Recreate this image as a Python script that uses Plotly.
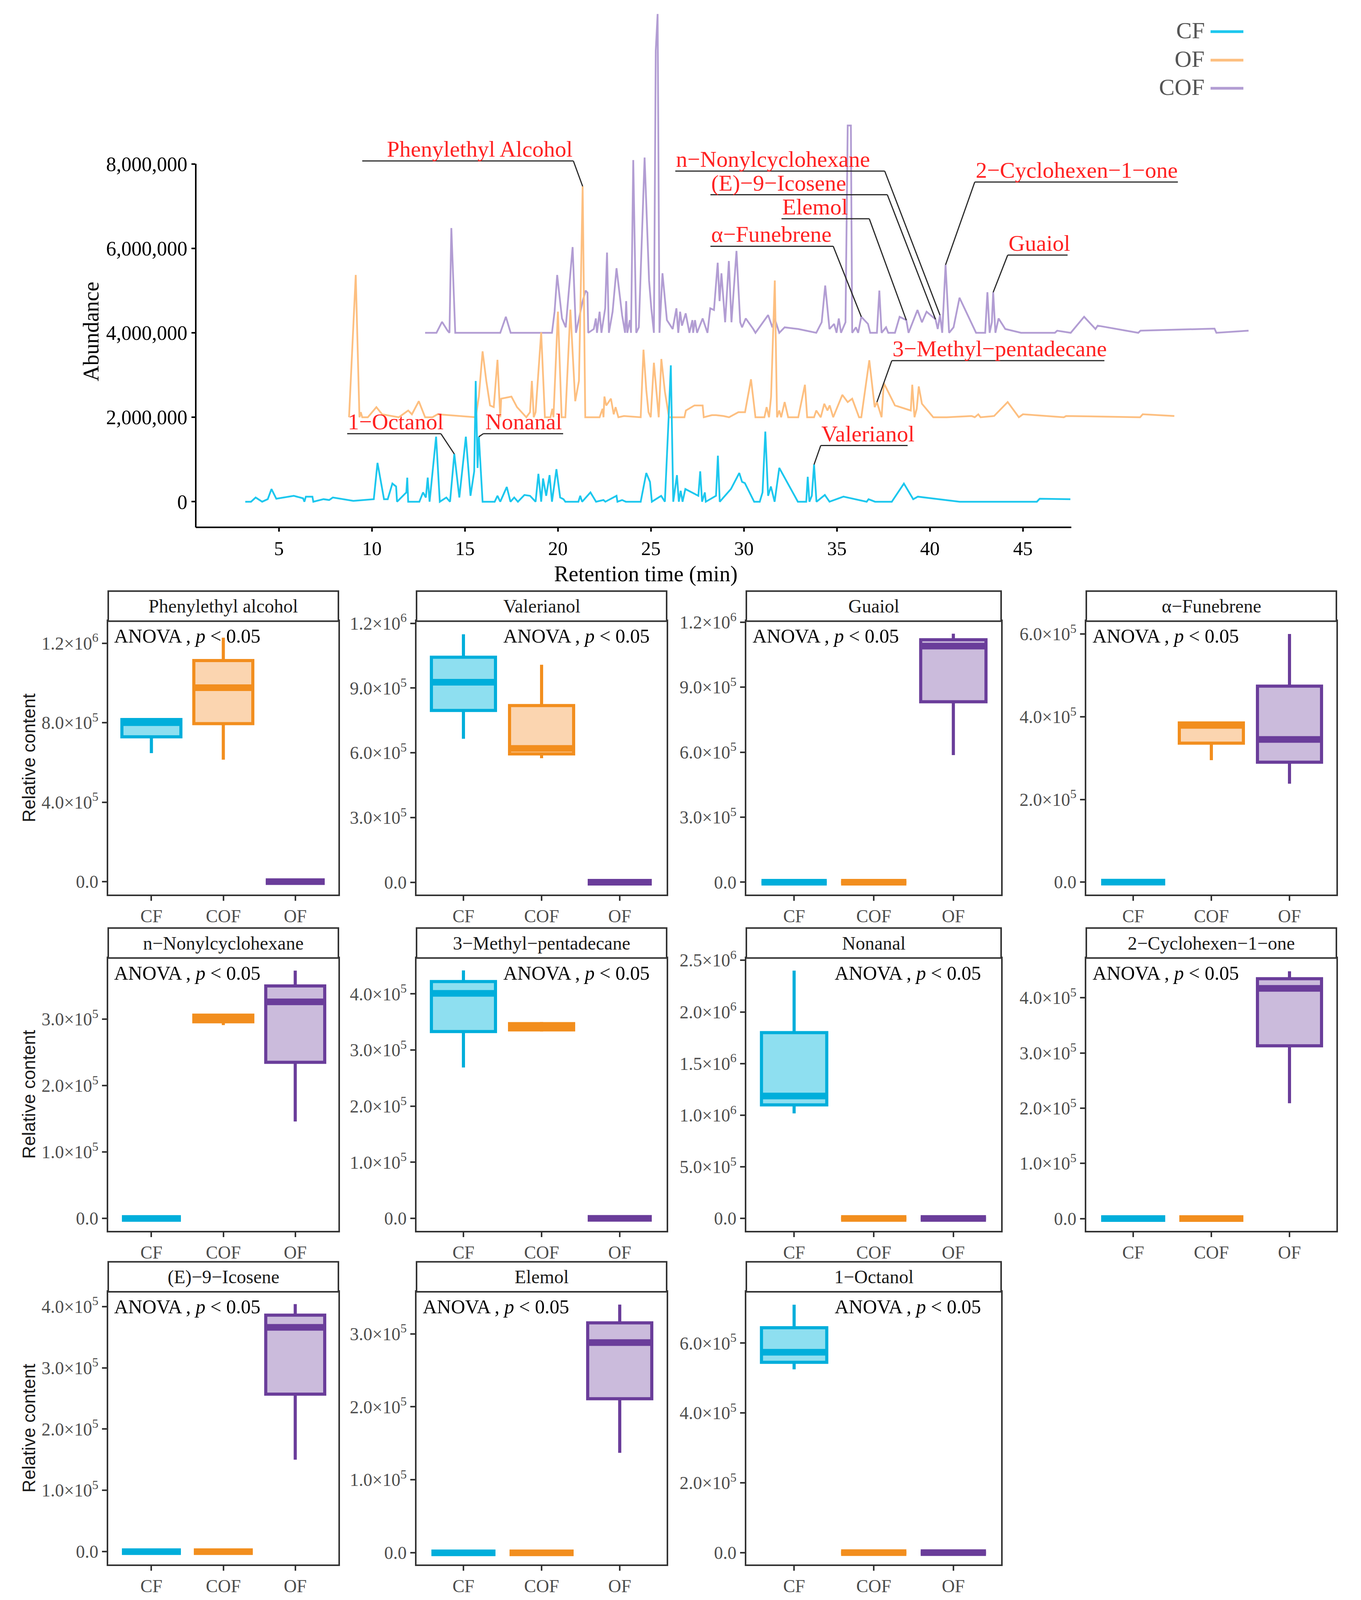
import numpy as np
import plotly.graph_objects as go

# design canvas (the page fills the browser window; positions are given as fractions of this)
W, H = 3483, 4688

# ---- chromatogram data (abundance in millions, above each trace's own baseline) ----
cf_time = [3.19, 3.5, 3.75, 4.1, 4.4, 4.6, 4.86, 5.8, 6.3, 6.37, 6.45, 6.8, 6.85, 7.4, 7.7, 7.9, 9.0, 10.1,
           10.3, 10.65, 10.85, 11.1, 11.3, 11.35, 11.85, 11.9, 11.95, 12.55, 12.75, 12.9, 13.0, 13.1, 13.45,
           13.65, 14.0, 14.2, 14.43, 14.7, 15.05, 15.3, 15.5, 15.58, 15.68, 15.75, 15.95, 16.6, 16.75, 16.9,
           17.25, 17.45, 17.65, 17.85, 18.2, 18.5, 18.8, 18.95, 19.1, 19.2, 19.37, 19.55, 19.68, 19.92, 20.12,
           20.3, 20.4, 21.1, 21.2, 21.3, 21.75, 22.05, 22.45, 22.55, 23.15, 23.2, 23.45, 23.65, 24.45, 24.75,
           24.95, 25.05, 25.55, 25.75, 25.97, 26.07, 26.2, 26.4, 26.5, 26.6, 26.7, 26.85, 27.55, 27.65, 27.75,
           27.9, 27.95, 28.5, 28.6, 28.7, 29.3, 29.75, 29.9, 30.05, 30.55, 30.85, 31.0, 31.15, 31.3, 31.45,
           31.65, 31.9, 32.9, 33.35, 33.43, 33.52, 33.65, 33.77, 33.9, 34.35, 34.6, 35.35, 36.6, 36.7, 37.05,
           37.95, 38.6, 39.1, 39.35, 41.6, 45.75, 45.9, 47.55]
cf_abund = [0, 0, 0.1, 0, 0.06, 0.3, 0.07, 0.14, 0.08, 0, 0.12, 0.12, 0, 0.06, 0.04, 0.1, 0.02, 0.06,
            0.92, 0.06, 0.06, 0.43, 0.36, 0, 0.22, 0.57, 0, 0, 0.22, 0.1, 0.57, 0, 1.54,
            0, 0.1, 0, 1.13, 0.1, 1.54, 0.14, 0.72, 2.86, 0.8, 1.54, 0, 0, 0.14, 0,
            0.35, 0, 0.1, 0, 0.16, 0.14, 0, 0.66, 0, 0.55, 0.14, 0.63, 0, 0.77, 0.1,
            0.06, 0, 0, 0.14, 0, 0.22, 0, 0.04, 0, 0.14, 0, 0.04, 0, 0, 0.68,
            0.47, 0, 0.14, 0, 2.16, 3.23, 0, 0.63, 0, 0.26, 0, 0.3, 0.14, 0.72, 0,
            0.22, 0, 0.14, 1.09, 0, 0.3, 0.68, 0.47, 0.44, 0, 0, 0.22, 1.66, 0.14, 0.36,
            0, 0.8, 0, 0, 0.59, 0, 0.14, 0.88, 0, 0.16, 0, 0.12, 0, 0.06, 0,
            0, 0.43, 0.06, 0.12, 0, 0, 0.07, 0.06]

of_time = [8.77, 9.13, 9.33, 9.4, 9.48, 9.78, 10.24, 10.55, 11.45, 11.95, 12.15, 12.52, 12.86, 13.25, 13.53,
           15.38, 15.58, 15.75, 15.95, 16.15, 16.35, 16.55, 16.75, 16.9, 16.95, 17.5, 17.8, 18.3, 18.5, 18.6,
           18.7, 18.8, 19.1, 19.3, 19.6, 19.7, 19.76, 20.0, 20.2, 20.4, 20.67, 20.93, 21.13, 21.23, 21.33,
           21.47, 22.24, 22.4, 22.45, 22.5, 22.6, 22.85, 23.0, 23.1, 23.25, 23.55, 24.45, 24.6, 24.75, 24.87,
           24.99, 25.16, 25.3, 25.42, 25.56, 25.75, 25.97, 26.27, 26.8, 26.88, 27.34, 27.78, 27.84, 28.28,
           28.5, 28.9, 29.2, 29.7, 30.06, 30.38, 30.62, 31.1, 31.22, 31.35, 31.46, 31.66, 31.78, 31.9, 32.0,
           32.19, 32.38, 32.92, 33.28, 33.4, 33.77, 33.89, 34.13, 34.32, 34.49, 34.61, 34.8, 35.29, 35.58,
           35.82, 36.19, 36.31, 36.74, 37.03, 37.15, 37.4, 37.52, 38.12, 38.97, 39.05, 39.17, 39.29, 39.4,
           39.57, 40.18, 40.9, 42.24, 42.41, 42.6, 42.72, 43.45, 44.18, 44.78, 45.0, 47.2, 47.32, 51.3, 51.44,
           53.14]
of_abund = [0, 3.37, 0, 0.12, 0, 0, 0.24, 0.07, 0, 0.16, 0.07, 0.38, 0, 0, 0.07,
            0, 0, 0.49, 1.56, 0.86, 0.28, 0.24, 1.36, 0, 0.44, 0.49, 0.24, 0, 0.12, 0.86,
            0, 0.12, 2.01, 0, 0, 0.2, 0, 2.5, 0, 0, 2.55, 0.38, 0.86, 3.08, 5.47,
            0, 0, 0.2, 0, 0.49, 0.28, 0.44, 0.07, 0.24, 0, 0.03, 0, 1.6, 0.65, 0.12,
            0, 1.29, 0.65, 0, 1.38, 0.61, 0, 0, 0, 0.16, 0.28, 0.28, 0, 0.05,
            0.05, 0.03, 0, 0.12, 0.12, 0.9, 0, 0, 0.24, 0, 0.49, 3.24, 0, 0.16, 0,
            0.36, 0, 0, 0.77, 0, 0, 0.16, 0, 0.32, 0.16, 0.28, 0, 0.53, 0.36,
            0.44, 0, 0, 1.35, 0.24, 0.36, 0, 0.81, 0.28, 0.16, 0.77, 0, 0.2, 0.73,
            0.32, 0, 0, 0.03, 0, 0.07, 0, 0.03, 0.36, 0, 0.07, 0, 0.03, 0, 0.07,
            0.03]

cof_time = [12.86, 13.47, 13.77, 14.07, 14.17, 14.27, 14.48, 16.9, 17.2, 17.46, 19.68, 19.82, 19.96, 20.22,
            20.42, 20.79, 20.97, 21.33, 21.49, 21.59, 21.63, 21.93, 22.04, 22.1, 22.24, 22.34, 22.54, 22.64,
            22.74, 22.94, 23.15, 23.45, 23.61, 23.67, 23.73, 23.87, 23.93, 24.05, 24.21, 24.35, 24.66, 24.9,
            25.02, 25.16, 25.26, 25.36, 25.46, 25.62, 25.86, 26.17, 26.37, 26.47, 26.57, 26.67, 26.87, 27.07,
            27.23, 27.27, 27.37, 27.48, 27.78, 28.04, 28.19, 28.39, 28.59, 28.69, 28.79, 28.99, 29.19, 29.33,
            29.6, 29.8, 29.9, 30.1, 30.5, 30.62, 31.3, 31.53, 31.65, 31.9, 32.19, 32.92, 33.89, 34.18, 34.37,
            34.6, 34.85, 34.98, 35.1, 35.22, 35.46, 35.58, 35.75, 35.82, 36.02, 36.14, 36.31, 36.67, 36.79,
            37.15, 37.28, 37.4, 37.64, 37.76, 38.12, 38.37, 38.73, 38.85, 39.33, 39.57, 39.82, 40.3, 40.42,
            40.54, 40.66, 40.84, 41.03, 41.27, 41.59, 42.48, 42.97, 43.09, 43.21, 43.33, 43.4, 43.52, 43.69,
            44.05, 44.9, 46.72, 46.84, 47.57, 48.29, 48.9, 49.02, 51.2, 51.32, 55.3, 55.4, 57.13]
cof_abund = [0, 0, 0.26, 0.05, 0, 2.48, 0, 0, 0.38, 0, 0, 0.5, 1.37, 0.34,
             0.13, 2.03, 0, 0.75, 1.0, 0.95, 0, 0.09, 0.34, 0, 0.5, 0, 0.58, 1.9,
             0, 0.5, 1.53, 0.42, 0, 0.75, 0, 0.3, 0, 4.09, 0, 0.13, 4.15, 1.24,
             0.58, 0, 6.68, 7.55, 0, 1.41, 0.3, 0.09, 0.58, 0, 0.5, 0.17, 0.46, 0,
             0.3, 0, 0.3, 0, 0.34, 0, 0.58, 0.54, 1.66, 0.75, 1.41, 0.25, 1.7, 0.25,
             1.94, 0.25, 0.13, 0.34, 0.09, 0, 0.42, 0.13, 0.34, 0, 0.13, 0.09, 0, 0.25, 1.12,
             0.09, 0.21, 0, 0.34, 0, 0.25, 4.91, 4.91, 0, 0.13, 0, 0.38, 0.21, 0,
             0, 1.0, 0, 0.13, 0, 0, 0.38, 0.3, 0, 0.54, 0.25, 0.5, 0.32, 0.09,
             0.42, 0, 1.61, 0, 0.13, 0.83, 0, 0, 0.96, 0, 0.25, 0.96, 0, 0.34,
             0.09, 0, 0, 0.05, 0, 0.38, 0.09, 0.17, 0, 0.05, 0.1, 0, 0.05]

trace_offset = {"CF": 0, "OF": 2e6, "COF": 4e6}
trace_color = {"CF": "#1CC7EE", "OF": "#FDBF80", "COF": "#B29DD3"}

# peak labels: text, trace, peak time, underline start/end (min), underline height, text alignment
label_text = ["Phenylethyl Alcohol", "n−Nonylcyclohexane", "(E)−9−Icosene", "Elemol", "α−Funebrene",
              "2−Cyclohexen−1−one", "Guaiol", "3−Methyl−pentadecane", "Valerianol", "1−Octanol", "Nonanal"]
label_trace = ["OF", "COF", "COF", "COF", "COF", "COF", "COF", "OF", "CF", "CF", "CF"]
label_peak = [21.33, 40.54, 40.3, 38.73, 36.31, 40.84, 43.4, 37.15, 33.77, 14.43, 15.75]
label_x0 = [9.48, 26.31, 28.2, 32.02, 28.2, 42.41, 44.18, 37.95, 34.13, 8.67, 15.99]
label_x1 = [20.83, 37.57, 37.71, 36.74, 34.8, 53.33, 47.4, 49.38, 38.8, 13.71, 20.28]
label_y = [8.07e6, 7.83e6, 7.27e6, 6.7e6, 6.05e6, 7.57e6, 5.84e6, 3.34e6, 1.33e6, 1.61e6, 1.61e6]
label_align = ["right", "left", "left", "left", "left", "left", "left", "left", "left", "left", "right"]

# ---- box plot data: per group [lower whisker, Q1, median, Q3, upper whisker] ----
groups = ["CF", "COF", "OF"]
group_line = ["#00AEDB", "#F28E1E", "#6A3D9A"]
group_fill = ["#8EDFF0", "#FBD5B0", "#CBBBDC"]

compounds = ["Phenylethyl alcohol", "Valerianol", "Guaiol", "α−Funebrene", "n−Nonylcyclohexane",
             "3−Methyl−pentadecane", "Nonanal", "2−Cyclohexen−1−one", "(E)−9−Icosene", "Elemol", "1−Octanol"]
phenylethyl_alcohol = [[6.47e5, 7.29e5, 8.0e5, 8.16e5, 8.16e5],
                       [6.14e5, 7.95e5, 9.76e5, 1.113e6, 1.228e6],
                       [0, 0, 0, 0, 0]]
valerianol = [[6.65e5, 7.96e5, 9.27e5, 1.043e6, 1.149e6],
              [5.75e5, 5.95e5, 6.2e5, 8.19e5, 1.008e6],
              [0, 0, 0, 0, 0]]
guaiol = [[0, 0, 0, 0, 0],
          [0, 0, 0, 0, 0],
          [5.87e5, 8.33e5, 1.09e6, 1.119e6, 1.147e6]]
funebrene = [[0, 0, 0, 0, 0],
             [2.95e5, 3.36e5, 3.79e5, 3.85e5, 3.87e5],
             [2.38e5, 2.9e5, 3.45e5, 4.74e5, 6.0e5]]
nonylcyclohexane = [[0, 0, 0, 0, 0],
                    [2.91e5, 2.96e5, 3.01e5, 3.06e5, 3.06e5],
                    [1.46e5, 2.35e5, 3.26e5, 3.5e5, 3.73e5]]
methyl_pentadecane = [[2.69e5, 3.33e5, 4.01e5, 4.22e5, 4.42e5],
                      [3.33e5, 3.36e5, 3.42e5, 3.47e5, 3.5e5],
                      [0, 0, 0, 0, 0]]
nonanal = [[1.017e6, 1.10e6, 1.186e6, 1.80e6, 2.40e6],
           [0, 0, 0, 0, 0],
           [0, 0, 0, 0, 0]]
cyclohexenone = [[0, 0, 0, 0, 0],
                 [0, 0, 0, 0, 0],
                 [2.09e5, 3.13e5, 4.17e5, 4.345e5, 4.48e5]]
icosene = [[0, 0, 0, 0, 0],
           [0, 0, 0, 0, 0],
           [1.5e5, 2.57e5, 3.66e5, 3.86e5, 4.04e5]]
elemol = [[0, 0, 0, 0, 0],
          [0, 0, 0, 0, 0],
          [1.37e5, 2.11e5, 2.88e5, 3.15e5, 3.40e5]]
octanol = [[5.25e5, 5.45e5, 5.74e5, 6.44e5, 7.1e5],
           [0, 0, 0, 0, 0],
           [0, 0, 0, 0, 0]]
box_stats = [phenylethyl_alcohol, valerianol, guaiol, funebrene, nonylcyclohexane, methyl_pentadecane,
             nonanal, cyclohexenone, icosene, elemol, octanol]

y_ticks = [[0, 4e5, 8e5, 1.2e6], [0, 3e5, 6e5, 9e5, 1.2e6], [0, 3e5, 6e5, 9e5, 1.2e6], [0, 2e5, 4e5, 6e5],
           [0, 1e5, 2e5, 3e5], [0, 1e5, 2e5, 3e5, 4e5], [0, 5e5, 1e6, 1.5e6, 2e6, 2.5e6],
           [0, 1e5, 2e5, 3e5, 4e5], [0, 1e5, 2e5, 3e5, 4e5], [0, 1e5, 2e5, 3e5], [0, 2e5, 4e5, 6e5]]
y_ranges = [[-0.65e5, 13.11e5], [-0.57e5, 12.1e5], [-0.57e5, 12.05e5], [-0.30e5, 6.31e5],
            [-0.185e5, 3.92e5], [-0.22e5, 4.64e5], [-1.19e5, 25.22e5], [-0.22e5, 4.72e5],
            [-0.21e5, 4.24e5], [-0.16e5, 3.575e5], [-0.34e5, 7.47e5]]
anova_x = [0.47, 1.5, 0.47, 0.47, 0.47, 1.5, 1.5, 0.47, 0.47, 0.47, 1.5]

# panel geometry in design pixels
cols_px = [(277, 866), (1066, 1706), (1910, 2562), (2780, 3420)]
rows_px = [(1820, 2621), (2807, 3606), (3785, 4584)]
strip_h = 88
box_w = 0.82

SERIF = "Liberation Serif"


def sci_label(v):
    if v == 0:
        return "0.0"
    e = int(np.floor(np.log10(v) + 1e-9))
    return "%.1f×10<sup>%d</sup>" % (v / 10 ** e, e)


fig = go.Figure()
shapes = []
annotations = []

# ---- chromatogram ----
chrom_series = {"CF": (cf_time, cf_abund), "OF": (of_time, of_abund), "COF": (cof_time, cof_abund)}
for name in ["COF", "OF", "CF"]:
    t, a = chrom_series[name]
    y = np.array(a) * 1e6 + trace_offset[name]
    fig.add_trace(go.Scatter(x=t, y=y, mode="lines", line=dict(color=trace_color[name], width=4.5),
                             xaxis="x", yaxis="y", showlegend=False, hoverinfo="skip"))

for i, txt in enumerate(label_text):
    t, a = chrom_series[label_trace[i]]
    peak_y = np.interp(label_peak[i], t, a) * 1e6 + trace_offset[label_trace[i]]
    x_join = label_x1[i] if label_peak[i] > label_x1[i] else label_x0[i]
    line_style = dict(color="#2b2b2b", width=3)
    shapes.append(dict(type="line", xref="x", yref="y", x0=label_x0[i], x1=label_x1[i],
                       y0=label_y[i], y1=label_y[i], line=line_style))
    shapes.append(dict(type="line", xref="x", yref="y", x0=x_join, x1=label_peak[i],
                       y0=label_y[i], y1=peak_y, line=line_style))
    annotations.append(dict(text=txt, xref="x", yref="y",
                            x=label_x0[i] if label_align[i] == "left" else label_x1[i],
                            y=label_y[i], xanchor=label_align[i], yanchor="bottom", showarrow=False,
                            yshift=-4, font=dict(family=SERIF, size=58, color="#FF2222")))

chrom_x_range = [0.53, 57.44]
chrom_y_range = [-0.606e6, 11.72e6]
shapes.append(dict(type="line", xref="x", yref="y domain", x0=0.53, x1=47.6, y0=0, y1=0,
                   line=dict(color="black", width=4)))
shapes.append(dict(type="line", xref="x domain", yref="y", x0=0, x1=0, y0=chrom_y_range[0], y1=8e6,
                   line=dict(color="black", width=4)))

# legend (labels left of line keys), offsets in px from the top edge
for k, name in enumerate(["CF", "OF", "COF"]):
    yc = [78, 151, 223][k]
    annotations.append(dict(text=name, xref="paper", yref="paper", x=3085 / W, y=1, yshift=-yc,
                            xanchor="right", yanchor="middle", showarrow=False,
                            font=dict(family=SERIF, size=60, color="#555555")))
    shapes.append(dict(type="line", xref="paper", yref="paper", ysizemode="pixel", yanchor=1,
                       x0=3098 / W, x1=3182 / W, y0=-(yc + 3), y1=-(yc + 3),
                       line=dict(color=trace_color[name], width=7)))

annotations.append(dict(text="Abundance", xref="x domain", yref="paper", x=0, xshift=-268, y=1 - 972 / H,
                        textangle=-90, showarrow=False, xanchor="center", yanchor="middle",
                        font=dict(family=SERIF, size=56, color="black")))
annotations.append(dict(text="Retention time (min)", xref="paper", yref="y domain", x=1653 / W, y=0,
                        yshift=-86, showarrow=False, xanchor="center", yanchor="top",
                        font=dict(family=SERIF, size=56, color="black")))

layout_axes = dict(
    xaxis=dict(domain=[501 / W, 3210 / W], range=chrom_x_range, anchor="y", showline=False, showgrid=False,
               zeroline=False, tickvals=[5, 10, 15, 20, 25, 30, 35, 40, 45], ticks="outside", ticklen=10,
               tickwidth=4, tickcolor="black", tickfont=dict(family=SERIF, size=50, color="black"),
               automargin=False),
    yaxis=dict(domain=[(H - 1545) / H, (H - 20) / H], range=chrom_y_range, anchor="x", showline=False,
               showgrid=False, zeroline=False, tickvals=[0, 2e6, 4e6, 6e6, 8e6], tickformat=",d",
               ticks="outside", ticklen=10, tickwidth=4, tickcolor="black",
               tickfont=dict(family=SERIF, size=52, color="black"), automargin=False),
)

# ---- box plot panels ----
for p, name in enumerate(compounds):
    r, c = divmod(p, 4)
    x0px, x1px = cols_px[c]
    y0px, y1px = rows_px[r]
    n = p + 2
    xa, ya = "x%d" % n, "y%d" % n
    box_px = (x1px - x0px) / 3.2 * box_w
    for g in range(3):
        lo, q1, med, q3, hi = box_stats[p][g]
        fig.add_trace(go.Box(x=[g + 1], lowerfence=[lo], q1=[q1], median=[med], q3=[q3], upperfence=[hi],
                             width=box_w, whiskerwidth=0, fillcolor=group_fill[g],
                             line=dict(color=group_line[g], width=8), xaxis=xa, yaxis=ya,
                             showlegend=False, hoverinfo="skip"))
        # thick median bar (line-ew marker is 1.4 x size long)
        fig.add_trace(go.Scatter(x=[g + 1], y=[med], mode="markers", xaxis=xa, yaxis=ya,
                                 marker=dict(symbol="line-ew", size=box_px / 1.4,
                                             line=dict(color=group_line[g], width=17)),
                                 showlegend=False, hoverinfo="skip"))
    common = dict(showline=True, mirror=True, linecolor="#333333", linewidth=4, showgrid=False, zeroline=False,
                  ticks="outside", ticklen=12, tickwidth=4, tickcolor="#333333", automargin=False,
                  tickfont=dict(family=SERIF, size=46, color="#4D4D4D"))
    layout_axes["xaxis%d" % n] = dict(domain=[x0px / W, x1px / W], range=[0.4, 3.6], anchor=ya,
                                      tickvals=[1, 2, 3], ticktext=groups, **common)
    layout_axes["yaxis%d" % n] = dict(domain=[(H - y1px) / H, (H - y0px) / H], range=y_ranges[p], anchor=xa,
                                      tickvals=y_ticks[p], ticktext=[sci_label(v) for v in y_ticks[p]],
                                      **common)
    # strip
    shapes.append(dict(type="rect", xref="paper", yref="paper", x0=x0px / W, x1=x1px / W,
                       y0=(H - y0px) / H, y1=(H - y0px + strip_h) / H, fillcolor="white",
                       line=dict(color="#333333", width=4), layer="above"))
    annotations.append(dict(text=name, xref="paper", yref="paper", x=(x0px + x1px) / 2 / W,
                            y=(H - y0px + strip_h / 2) / H, xanchor="center", yanchor="middle",
                            showarrow=False, font=dict(family=SERIF, size=48, color="#1a1a1a")))
    annotations.append(dict(text="ANOVA , <i>p</i> &lt; 0.05", xref=xa, yref=ya + " domain", x=anova_x[p], y=1,
                            xanchor="left", yanchor="top", yshift=-8, showarrow=False,
                            font=dict(family=SERIF, size=50, color="black")))
    if c == 0:
        annotations.append(dict(text="Relative content", xref="paper", yref="paper", x=74 / W,
                                y=(H - (y0px + y1px) / 2) / H, textangle=-90, showarrow=False,
                                xanchor="center", yanchor="middle",
                                font=dict(family="Liberation Sans", size=46, color="#1a1a1a")))

fig.update_layout(
    autosize=True, margin=dict(l=0, r=0, t=0, b=0),
    paper_bgcolor="white", plot_bgcolor="white", boxmode="overlay",
    font=dict(family=SERIF), shapes=shapes, annotations=annotations, **layout_axes
)

# fill the browser window exactly, no mode bar
fig.write_html(
    "out.html", default_width="100%", default_height="100vh",
    config={"displayModeBar": False},
    post_script="document.body.style.margin='0';document.body.style.overflow='hidden';"
                "Plotly.Plots.resize(document.getElementById('{plot_id}'));",
)
